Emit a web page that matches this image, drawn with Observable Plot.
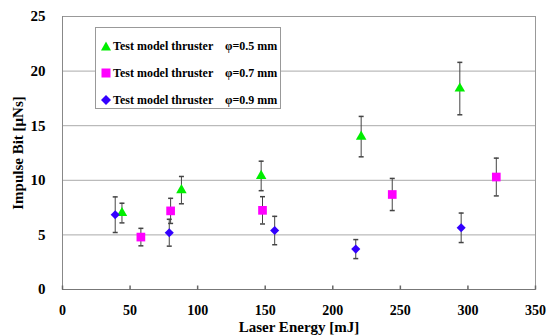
<!DOCTYPE html>
<html>
<head>
<meta charset="utf-8">
<script src="https://cdn.jsdelivr.net/npm/d3@7"></script>
<script src="https://cdn.jsdelivr.net/npm/@observablehq/plot@0.6"></script>
<style>
  html, body { margin: 0; padding: 0; background: #fff; }
  #wrap { position: relative; width: 547px; height: 336px; }
  #legend {
    position: absolute; left: 95px; top: 27px; width: 186px; height: 82px;
    background: #fff; border: 1px solid #999; box-sizing: border-box;
    font-family: "Liberation Serif", "Times New Roman", serif; font-weight: bold; font-size: 12px; color: #000;
  }
  .row { position: absolute; left: 0; height: 14px; line-height: 14px; white-space: nowrap; }
  .row svg { position: absolute; left: 4px; top: 1px; }
  .row .t1 { position: absolute; left: 17px; }
  .row .t2 { position: absolute; left: 129px; }
</style>
</head>
<body>
<div id="wrap"></div>
<script>
// Series data
const seriesNames = ["Test model thruster", "Test model thruster", "Test model thruster"];
const seriesDiam = ["φ=0.5 mm", "φ=0.7 mm", "φ=0.9 mm"];
const seriesColors = ["#00ee00", "#ff00ff", "#3300ff"];

const energy05 = [44, 88, 147, 221, 294];
const impulse05 = [7.0, 9.1, 10.4, 14.0, 18.4];
const err05 = [0.9, 1.25, 1.35, 1.85, 2.4];

const energy07 = [58, 80, 148, 244, 321];
const impulse07 = [4.8, 7.2, 7.25, 8.7, 10.3];
const err07 = [0.8, 1.15, 1.25, 1.47, 1.73];

const energy09 = [39, 79, 157, 217, 295];
const impulse09 = [6.85, 5.2, 5.4, 3.7, 5.65];
const err09 = [1.63, 1.23, 1.3, 0.87, 1.35];

const xTicks = [0, 50, 100, 150, 200, 250, 300, 350];
const yTicks = [0, 5, 10, 15, 20, 25];

const build = (xs, ys, es, k) => xs.map((x, i) => ({x, y: ys[i], e: es[i], k}));
const d05 = build(energy05, impulse05, err05, 0);
const d07 = build(energy07, impulse07, err07, 1);
const d09 = build(energy09, impulse09, err09, 2);
const all = [...d05, ...d07, ...d09];

const capSymbol = { draw(ctx) { ctx.moveTo(-2.5, 0); ctx.lineTo(2.5, 0); } };
const tickUp = { draw(ctx) { ctx.moveTo(0, 0); ctx.lineTo(0, -4); } };

const font = "'Liberation Serif', 'Times New Roman', serif";

const chart = Plot.plot({
  width: 547, height: 336,
  marginLeft: 62, marginRight: 12, marginTop: 16, marginBottom: 47,
  style: { fontFamily: font, fontWeight: "bold", fontSize: "15px", color: "#000", background: "#fff" },
  x: { domain: [0, 350] },
  y: { domain: [0, 25] },
  marks: [
    Plot.ruleY(yTicks.filter(d => d > 0 && d < 25), { stroke: "#aaa", strokeWidth: 1 }),
    Plot.frame({ stroke: "#999" }),
    Plot.ruleY([0], { stroke: "#777" }),
    Plot.ruleX([0], { stroke: "#888" }),
    Plot.axisY({ ticks: yTicks, tickSize: 0, tickPadding: 17, label: "Impulse Bit [μNs]", labelAnchor: "center", labelArrow: "none", labelOffset: 50, fontSize: 15 }),
    Plot.axisX({ ticks: xTicks, tickSize: 0, tickPadding: 16, label: null, fontSize: 14 }),
    Plot.axisX({ ticks: [], tickSize: 0, label: "Laser Energy [mJ]", labelAnchor: "center", labelArrow: "none", labelOffset: 42, fontSize: 15 }),
    Plot.dot(xTicks, { x: d => d, y: 0, symbol: tickUp, stroke: "#666", r: 3 }),
    // error bars
    Plot.ruleX(all, { x: "x", y1: d => d.y - d.e, y2: d => d.y + d.e, stroke: "#444", strokeWidth: 1 }),
    Plot.dot(all, { x: "x", y: d => d.y - d.e, symbol: capSymbol, stroke: "#444", r: 3 }),
    Plot.dot(all, { x: "x", y: d => d.y + d.e, symbol: capSymbol, stroke: "#444", r: 3 }),
    // markers
    Plot.dot(d05, { x: "x", y: "y", symbol: "triangle", fill: seriesColors[0], r: 3.9 }),
    Plot.dot(d07, { x: "x", y: "y", symbol: "square", fill: seriesColors[1], r: 4.9 }),
    Plot.dot(d09, { x: "x", y: "y", symbol: "diamond2", fill: seriesColors[2], r: 4.1 })
  ]
});

const wrap = document.getElementById("wrap");
wrap.appendChild(chart);

// Legend (HTML overlay)
const legend = document.createElement("div");
legend.id = "legend";
const shapes = [
  (c) => `<svg width="12" height="12"><path d="M6,1.5 L11,10.5 L1,10.5 Z" fill="${c}"/></svg>`,
  (c) => `<svg width="12" height="12"><rect x="1.5" y="1.5" width="9" height="9" fill="${c}"/></svg>`,
  (c) => `<svg width="12" height="12"><path d="M6,1 L11,6 L6,11 L1,6 Z" fill="${c}"/></svg>`
];
const rowTops = [11, 38, 65];
seriesNames.forEach((name, i) => {
  const row = document.createElement("div");
  row.className = "row";
  row.style.top = rowTops[i] + "px";
  row.innerHTML = shapes[i](seriesColors[i]) + `<span class="t1">${name}</span><span class="t2">${seriesDiam[i]}</span>`;
  legend.appendChild(row);
});
wrap.appendChild(legend);
</script>
</body>
</html>
